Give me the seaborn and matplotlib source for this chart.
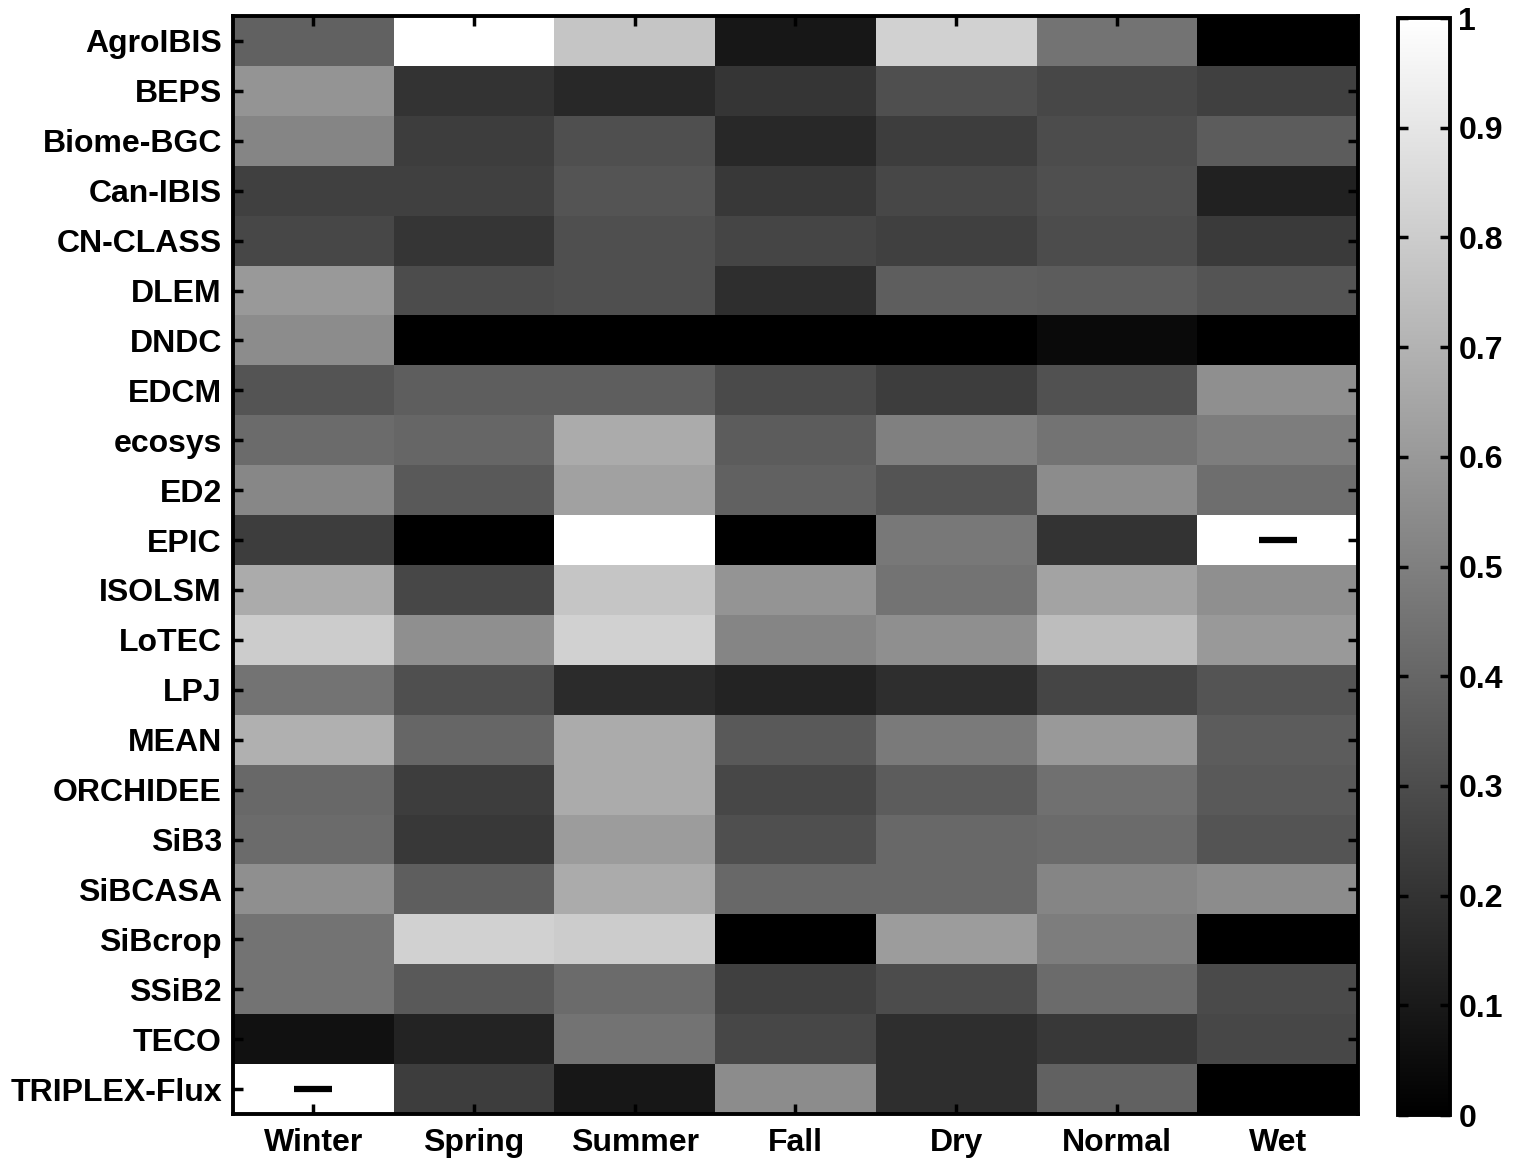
import numpy as np
import pandas as pd
import matplotlib
matplotlib.use("Agg")
import matplotlib.pyplot as plt
import seaborn as sns

models = ["AgroIBIS", "BEPS", "Biome-BGC", "Can-IBIS", "CN-CLASS", "DLEM", "DNDC",
          "EDCM", "ecosys", "ED2", "EPIC", "ISOLSM", "LoTEC", "LPJ", "MEAN",
          "ORCHIDEE", "SiB3", "SiBCASA", "SiBcrop", "SSiB2", "TECO", "TRIPLEX-Flux"]
periods = ["Winter", "Spring", "Summer", "Fall", "Dry", "Normal", "Wet"]

# values read off the grey levels (0 = black, 1 = white); nan = no data (dash)
winter = [0.38, 0.58, 0.52, 0.25, 0.28, 0.60, 0.55, 0.33, 0.42, 0.53, 0.24,
          0.67, 0.80, 0.45, 0.69, 0.41, 0.42, 0.56, 0.45, 0.45, 0.07, np.nan]
spring = [1.00, 0.20, 0.24, 0.25, 0.21, 0.30, 0.00, 0.37, 0.40, 0.35, 0.00,
          0.28, 0.56, 0.31, 0.40, 0.24, 0.22, 0.37, 0.82, 0.35, 0.14, 0.24]
summer = [0.77, 0.16, 0.31, 0.33, 0.31, 0.31, 0.00, 0.37, 0.67, 0.63, 1.00,
          0.77, 0.82, 0.17, 0.67, 0.67, 0.61, 0.67, 0.80, 0.42, 0.45, 0.09]
fall = [0.09, 0.21, 0.16, 0.22, 0.27, 0.18, 0.00, 0.29, 0.36, 0.38, 0.00,
        0.58, 0.52, 0.14, 0.35, 0.28, 0.31, 0.41, 0.00, 0.25, 0.28, 0.55]
dry = [0.82, 0.31, 0.24, 0.28, 0.25, 0.37, 0.00, 0.24, 0.50, 0.33, 0.47,
       0.45, 0.56, 0.18, 0.48, 0.36, 0.41, 0.41, 0.61, 0.30, 0.18, 0.18]
normal = [0.45, 0.28, 0.30, 0.31, 0.30, 0.36, 0.04, 0.32, 0.45, 0.55, 0.20,
          0.64, 0.74, 0.27, 0.60, 0.44, 0.42, 0.52, 0.49, 0.42, 0.22, 0.38]
wet = [0.00, 0.25, 0.36, 0.13, 0.23, 0.33, 0.00, 0.56, 0.49, 0.43, np.nan,
       0.56, 0.60, 0.33, 0.36, 0.35, 0.33, 0.55, 0.00, 0.29, 0.28, 0.00]

cbar_ticks = [0, 0.1, 0.2, 0.3, 0.4, 0.5, 0.6, 0.7, 0.8, 0.9, 1]
cbar_labels = ["0", "0.1", "0.2", "0.3", "0.4", "0.5", "0.6", "0.7", "0.8", "0.9", "1"]

df = pd.DataFrame({"Winter": winter, "Spring": spring, "Summer": summer, "Fall": fall,
                   "Dry": dry, "Normal": normal, "Wet": wet}, index=models)[periods]

sns.set_style("white")
plt.rcParams["font.family"] = ["Liberation Sans", "DejaVu Sans"]
plt.rcParams["font.weight"] = "bold"
plt.rcParams["axes.axisbelow"] = False
plt.rcParams["text.color"] = "black"
plt.rcParams["xtick.color"] = "black"
plt.rcParams["ytick.color"] = "black"

fig = plt.figure(figsize=(15.13, 11.62), dpi=100)
ax = fig.add_axes([0.154, 0.0413, 0.7435, 0.9449])
cax = fig.add_axes([0.924, 0.0404, 0.0344, 0.9441])

sns.heatmap(df, cmap="gray", vmin=0, vmax=1, ax=ax, cbar_ax=cax, linewidths=0)
ax.set_axisbelow(False)
cax.set_axisbelow(False)

# missing cells: white with a black dash
rows, cols = np.where(df.isna().values)
ax.scatter(cols + 0.5, rows + 0.5, marker="_", s=27 ** 2, linewidths=4.5,
           color="black", zorder=5)

for s in ax.spines.values():
    s.set_visible(True)
    s.set_linewidth(2.8)
    s.set_color("black")

ax.tick_params(axis="both", direction="in", length=7, width=2.5, color="black",
               top=True, right=True, bottom=True, left=True, labelsize=23,
               labelcolor="black")
ax.tick_params(axis="x", pad=10)
ax.tick_params(axis="y", pad=8)
ax.set_xticklabels(periods, rotation=0, fontweight="bold")
ax.set_yticklabels(models, rotation=0, fontweight="bold", va="center_baseline")
ax.set_xlabel("")
ax.set_ylabel("")

cbar = ax.collections[0].colorbar
cbar.outline.set_linewidth(2.8)
cbar.outline.set_color("black")
cbar.set_ticks(cbar_ticks)
cbar.set_ticklabels(cbar_labels)
cax.tick_params(direction="in", length=7, width=2.5, left=True, right=True,
                labelsize=23, pad=6, color="black", labelcolor="black")
for t in cax.get_yticklabels():
    t.set_fontweight("bold")

plt.savefig("out.png", dpi=100)
